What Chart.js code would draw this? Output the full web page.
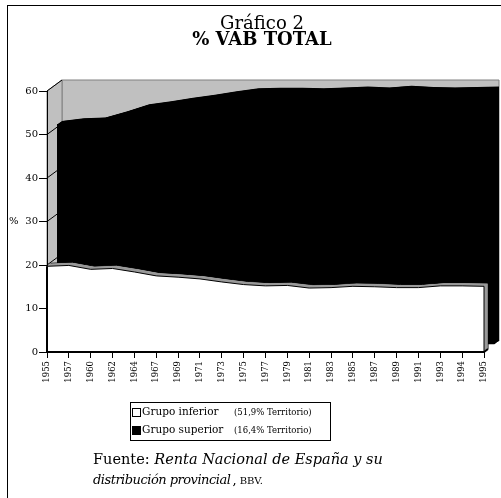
<!DOCTYPE html>
<html><head><meta charset="utf-8">
<script src="https://cdn.jsdelivr.net/npm/chart.js@4.4.0/dist/chart.umd.min.js"></script>
<style>
html,body{margin:0;padding:0;background:#fff;width:501px;height:498px;overflow:hidden;font-family:"DejaVu Serif",serif;color:#000;}
#frame{position:absolute;left:7px;top:5px;width:620px;height:620px;border:1px solid #000;}
#c{position:absolute;left:0;top:0;}
.abs{position:absolute;white-space:nowrap;line-height:1;}
#t1{left:112px;width:300px;text-align:center;top:14px;font-size:18px;}
#t2{left:112px;width:300px;text-align:center;top:30px;font-size:18px;font-weight:bold;}
#ylab{left:9px;top:216px;font-size:10px;}
#legend{position:absolute;left:130px;top:402px;width:199px;height:37px;border:1px solid #000;}
.row{position:absolute;left:0;width:199px;height:18px;font-size:10.5px;white-space:nowrap;line-height:1;}
.sw{position:absolute;left:1px;top:4px;width:7px;height:7px;border:1px solid #000;}
.lab{position:absolute;left:11px;top:2px;}
.note{position:absolute;left:103px;top:4px;font-size:8.5px;}
#src1{left:93px;top:452px;font-size:14.5px;}
#src2{left:93px;top:473px;font-size:13px;letter-spacing:-0.5px;}
.sm{font-size:10px;letter-spacing:0;}
</style></head>
<body>
<div id="frame"></div>
<canvas id="c" width="501" height="498"></canvas>
<div class="abs" id="t1">Gráfico 2</div>
<div class="abs" id="t2">% VAB TOTAL</div>
<div class="abs" id="ylab">%</div>
<div id="legend"></div>
<div class="abs" id="src1">Fuente: <i>Renta Nacional de España y su</i></div>
<div class="abs" id="src2"><i>distribución provincial</i>&thinsp;, <span class="sm">BBV.</span></div>
<script>
const years = ['1955','1957','1960','1962','1964','1967','1969','1971','1973','1975','1977','1979','1981','1983','1985','1987','1989','1991','1993','1994','1995'];
const inferior = [19.7,19.9,19.0,19.2,18.4,17.5,17.2,16.8,16.1,15.5,15.2,15.3,14.7,14.8,15.1,15.0,14.8,14.8,15.2,15.2,15.1];
const superior = [50.6,51.2,51.4,52.8,54.4,55.1,55.9,56.6,57.4,58.1,58.2,58.2,58.1,58.3,58.5,58.3,58.7,58.4,58.3,58.4,58.5];
const yMin = 0, yMax = 60, yStep = 10;
const seriesNames = ['Grupo inferior','Grupo superior'];
const seriesNotes = ['(51,9% Territorio)','(16,4% Territorio)'];
const seriesColors = ['#ffffff','#000000'];

// legend (HTML)
const lg = document.getElementById('legend');
seriesNames.forEach((n,i)=>{
  const r = document.createElement('div'); r.className='row'; r.style.top=(1+i*18)+'px';
  r.innerHTML = '<div class="sw" style="background:'+seriesColors[i]+'"></div><span class="lab">'+n+'</span><span class="note">'+seriesNotes[i]+'</span>';
  lg.appendChild(r);
});

// 3D depth geometry (pixels)
const FRONT = {dx:10, dy:-7.3};   // front face of the rear series
const BACK  = {dx:15, dy:-11};    // back wall
const WDEPTH = {dx:4, dy:-3};     // thickness of the front series
const NCAT = years.length - 1;

function slabPath(ctx, pts, base, dx, dy){
  ctx.beginPath();
  ctx.moveTo(pts[0].x+dx, base+dy);
  pts.forEach(p=>ctx.lineTo(p.x+dx, p.y+dy));
  ctx.lineTo(pts[pts.length-1].x+dx, base+dy);
  ctx.closePath();
}

const depth3d = {
  id:'depth3d',
  beforeDraw(chart){
    const {ctx, chartArea:a} = chart;
    ctx.save();
    ctx.fillStyle='#c0c0c0'; ctx.strokeStyle='#808080'; ctx.lineWidth=1;
    ctx.beginPath();
    ctx.rect(a.left+BACK.dx, a.top+BACK.dy, a.right-a.left, a.bottom-a.top);
    ctx.fill(); ctx.stroke();
    ctx.beginPath();
    ctx.moveTo(a.left,a.top); ctx.lineTo(a.left+BACK.dx,a.top+BACK.dy);
    ctx.lineTo(a.left+BACK.dx,a.bottom+BACK.dy); ctx.lineTo(a.left,a.bottom);
    ctx.closePath(); ctx.fill(); ctx.stroke();
    const y = chart.scales.y; ctx.strokeStyle='#000';
    y.ticks.forEach(t=>{
      const py = y.getPixelForValue(t.value);
      ctx.beginPath(); ctx.moveTo(a.left,py); ctx.lineTo(a.left+BACK.dx,py+BACK.dy); ctx.stroke();
    });
    ctx.restore();
  },
  beforeDatasetsDraw(chart){
    const ctx = chart.ctx;
    const pts = chart.getDatasetMeta(1).data;
    const base = chart.scales.yb.getPixelForValue(0);
    const ex = BACK.dx-FRONT.dx, ey = BACK.dy-FRONT.dy;
    ctx.save(); ctx.fillStyle='#000';
    for (let s=1; s>0.01; s-=0.1){ slabPath(ctx, pts, base, ex*s, ey*s); ctx.fill(); }
    ctx.restore();
  },
  afterDatasetDraw(chart, args){
    if (args.index !== 1) return;
    const ctx = chart.ctx;
    const pts = chart.getDatasetMeta(0).data;
    const base = chart.scales.y.getPixelForValue(0);
    ctx.save();
    ctx.fillStyle='#9a9a9a'; ctx.strokeStyle='#000'; ctx.lineWidth=1;
    slabPath(ctx, pts, base, WDEPTH.dx, WDEPTH.dy); ctx.fill(); ctx.stroke();
    for (let s=0.9; s>0.05; s-=0.1){ slabPath(ctx, pts, base, WDEPTH.dx*s, WDEPTH.dy*s); ctx.fill(); }
    ctx.restore();
  },
  afterDatasetsDraw(chart){
    const ctx = chart.ctx;
    const pts = chart.getDatasetMeta(0).data;
    const base = chart.scales.y.getPixelForValue(0);
    const f = pts[0], l = pts[pts.length-1];
    ctx.save(); ctx.strokeStyle='#000'; ctx.lineWidth=2;
    ctx.beginPath(); ctx.moveTo(f.x, f.y); ctx.lineTo(f.x, base);
    ctx.lineTo(l.x, base); ctx.lineTo(l.x+WDEPTH.dx, base+WDEPTH.dy); ctx.stroke();
    ctx.lineWidth=1;
    ctx.beginPath(); ctx.moveTo(l.x, l.y); ctx.lineTo(l.x, base); ctx.stroke();
    ctx.restore();
  }
};

const xUnit = 437/NCAT, yUnit = 261/(yMax-yMin);
new Chart(document.getElementById('c'), {
  type:'line',
  data:{
    labels: years,
    datasets:[
      {label:seriesNames[0], data:inferior, xAxisID:'x', yAxisID:'y',
       backgroundColor:seriesColors[0], borderColor:'#000', borderWidth:1, fill:'origin',
       pointRadius:0, tension:0, clip:false},
      {label:seriesNames[1], data:superior.map((v,i)=>({x:i,y:v})), xAxisID:'xb', yAxisID:'yb',
       backgroundColor:seriesColors[1], borderColor:'#000', borderWidth:1, fill:'origin',
       pointRadius:0, tension:0, clip:false}
    ]
  },
  options:{
    responsive:false, animation:false, devicePixelRatio:1,
    layout:{padding:{left:0, top:91, right:17, bottom:0}},
    plugins:{legend:{display:false}, tooltip:{enabled:false}, title:{display:false}},
    scales:{
      x:{type:'category', offset:false,
         grid:{drawOnChartArea:false, tickLength:6, color:'#000'},
         border:{color:'#000', width:2},
         ticks:{autoSkip:false, maxRotation:90, minRotation:90, padding:3, color:'#000',
                font:{family:'DejaVu Serif', size:8.5}},
         afterFit(s){ s.height = 146; }},
      y:{type:'linear', min:yMin, max:yMax,
         grid:{drawOnChartArea:false, tickLength:8, color:'#000'},
         border:{color:'#000', width:1},
         ticks:{stepSize:yStep, padding:1, color:'#000', font:{family:'DejaVu Serif', size:10}},
         afterFit(s){ s.width = 47; }},
      xb:{type:'linear', display:false, min:-FRONT.dx/xUnit, max:NCAT-FRONT.dx/xUnit},
      yb:{type:'linear', display:false, min:FRONT.dy/yUnit, max:yMax+FRONT.dy/yUnit}
    }
  },
  plugins:[depth3d]
});
</script>
</body></html>
